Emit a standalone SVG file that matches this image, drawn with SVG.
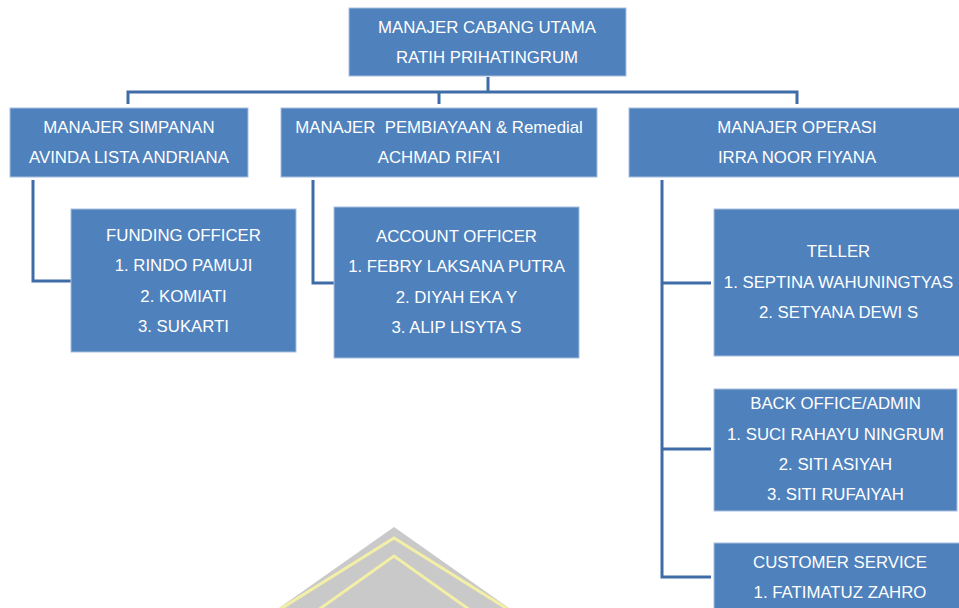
<svg xmlns="http://www.w3.org/2000/svg" width="959" height="608" viewBox="0 0 959 608">
<style>
.box{fill:#4F81BD;stroke:#A7BFDE;stroke-width:1}
.t{font-family:"Liberation Sans",Arial,sans-serif;font-size:16.8px;fill:#FFFFFF;text-anchor:middle}
.c{fill:none;stroke:#3F6CA7;stroke-width:3;stroke-linejoin:miter}
</style>
<rect width="959" height="608" fill="#FFFFFF"/>
<g id="watermark">
<polygon points="394,527 262,620 526,620" fill="#C9C9C9"/>
<polyline points="266,618 394,538 522,618" fill="none" stroke="#F3EFA6" stroke-width="3"/>
<polyline points="290,630 394,556 498,630" fill="none" stroke="#F3EFA6" stroke-width="3"/>
</g>
<g id="connectors">
<polyline class="c" points="488,77 488,92"/>
<polyline class="c" points="128,104 128,92 797,92 797,104"/>
<polyline class="c" points="439,92 439,104"/>
<polyline class="c" points="33,180 33,281 71,281"/>
<polyline class="c" points="313,180 313,283 334,283"/>
<polyline class="c" points="662,180 662,577 711,577"/>
<polyline class="c" points="662,283 711,283"/>
<polyline class="c" points="662,449 711,449"/>
</g>
<g id="n-cabang">
<rect class="box" x="349" y="8" width="277" height="68"/>
<text class="t" x="487" y="33">MANAJER CABANG UTAMA</text>
<text class="t" x="487" y="63">RATIH PRIHATINGRUM</text>
</g>
<g id="n-simpanan">
<rect class="box" x="10" y="108" width="238" height="69"/>
<text class="t" x="129" y="133">MANAJER SIMPANAN</text>
<text class="t" x="129" y="163">AVINDA LISTA ANDRIANA</text>
</g>
<g id="n-pembiayaan">
<rect class="box" x="281" y="108" width="316" height="69"/>
<text class="t" x="439" y="133" xml:space="preserve">MANAJER  PEMBIAYAAN &amp; Remedial</text>
<text class="t" x="439" y="163">ACHMAD RIFA'I</text>
</g>
<g id="n-operasi">
<rect class="box" x="629" y="108" width="336" height="69"/>
<text class="t" x="797" y="133">MANAJER OPERASI</text>
<text class="t" x="797" y="163">IRRA NOOR FIYANA</text>
</g>
<g id="n-funding">
<rect class="box" x="71" y="209" width="225" height="143"/>
<text class="t" x="183.5" y="241">FUNDING OFFICER</text>
<text class="t" x="183.5" y="271">1. RINDO PAMUJI</text>
<text class="t" x="183.5" y="302">2. KOMIATI</text>
<text class="t" x="183.5" y="332">3. SUKARTI</text>
</g>
<g id="n-account">
<rect class="box" x="334" y="207" width="245" height="151"/>
<text class="t" x="456.5" y="242">ACCOUNT OFFICER</text>
<text class="t" x="456.5" y="272">1. FEBRY LAKSANA PUTRA</text>
<text class="t" x="456.5" y="303">2. DIYAH EKA Y</text>
<text class="t" x="456.5" y="333">3. ALIP LISYTA S</text>
</g>
<g id="n-teller">
<rect class="box" x="714" y="209" width="252" height="147"/>
<text class="t" x="838.5" y="257">TELLER</text>
<text class="t" x="838.5" y="288">1. SEPTINA WAHUNINGTYAS</text>
<text class="t" x="838.5" y="318">2. SETYANA DEWI S</text>
</g>
<g id="n-backoffice">
<rect class="box" x="714" y="389" width="243" height="122"/>
<text class="t" x="835.5" y="409">BACK OFFICE/ADMIN</text>
<text class="t" x="835.5" y="440">1. SUCI RAHAYU NINGRUM</text>
<text class="t" x="835.5" y="470">2. SITI ASIYAH</text>
<text class="t" x="835.5" y="500">3. SITI RUFAIYAH</text>
</g>
<g id="n-cs">
<rect class="box" x="714" y="543" width="252" height="70"/>
<text class="t" x="840" y="568">CUSTOMER SERVICE</text>
<text class="t" x="840" y="598">1. FATIMATUZ ZAHRO</text>
</g>
</svg>
